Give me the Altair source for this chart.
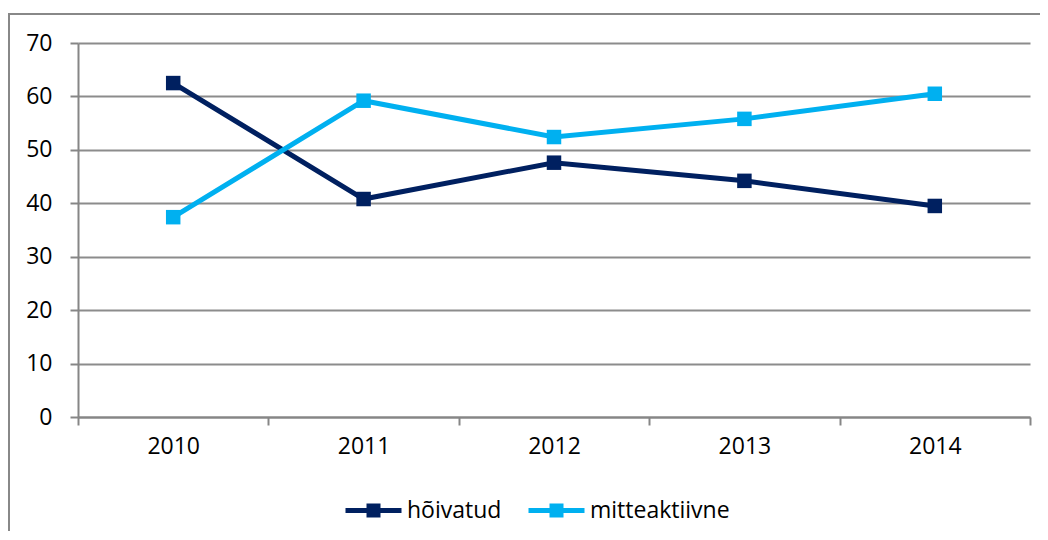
import altair as alt
import pandas as pd

years = ["2010", "2011", "2012", "2013", "2014"]
hoivatud = [62.5, 40.8, 47.6, 44.2, 39.5]
mitteaktiivne = [37.4, 59.2, 52.4, 55.8, 60.5]
series_names = ["hõivatud", "mitteaktiivne"]
series_colors = ["#002060", "#00B0F0"]
y_ticks = [0, 10, 20, 30, 40, 50, 60, 70]

rows = []
for y, a, b in zip(years, hoivatud, mitteaktiivne):
    rows.append({"aasta": y, "seeria": series_names[0], "v": a})
    rows.append({"aasta": y, "seeria": series_names[1], "v": b})
df = pd.DataFrame(rows)

FONT = "Open Sans"
FS = 23
W, H = 952, 374

x_enc = alt.X("aasta:N", title=None, sort=years,
              scale=alt.Scale(type="band", paddingInner=0, paddingOuter=0),
              axis=alt.Axis(labelAngle=0, tickBand="extent", grid=False,
                            domainColor="#868686", domainWidth=2,
                            tickColor="#868686", tickWidth=2, tickSize=8,
                            labelPadding=10, labelFontSize=FS, labelFont=FONT,
                            labelColor="#000000"))
y_enc = alt.Y("v:Q", title=None,
              scale=alt.Scale(domain=[0, 70], nice=False, zero=True),
              axis=alt.Axis(values=y_ticks, grid=True, gridColor="#8C8C8C", gridWidth=2,
                            domainColor="#868686", domainWidth=2,
                            tickColor="#868686", tickWidth=2, tickSize=8,
                            labelPadding=18, labelFontSize=FS, labelFont=FONT,
                            labelColor="#000000"))
color_scale = alt.Scale(domain=series_names, range=series_colors)

legend_path = "M-1,0H1M-0.25,-0.16H0.25M-0.25,0.16H0.25"

line = alt.Chart(df).mark_line(strokeWidth=5).encode(
    x=x_enc, y=y_enc,
    color=alt.Color("seeria:N", scale=color_scale, sort=series_names,
                    legend=alt.Legend(title=None, orient="none", direction="horizontal",
                                      legendX=265, legendY=437,
                                      symbolType=legend_path, symbolSize=3136,
                                      symbolStrokeWidth=5, labelFontSize=FS,
                                      labelFont=FONT, labelColor="#000000",
                                      labelOffset=3, columnPadding=16))
)
points = alt.Chart(df).mark_point(shape="square", filled=True, size=210, opacity=1).encode(
    x=x_enc, y=y_enc,
    color=alt.Color("seeria:N", scale=color_scale, sort=series_names, legend=None)
)

frame = alt.Chart(pd.DataFrame({"k": [0]})).mark_rect(
    fill=None, stroke="#888888", strokeWidth=2, clip=False
).encode(x=alt.value(-69), x2=alt.value(1000), y=alt.value(-29), y2=alt.value(520))

chart = alt.layer(frame, line, points).properties(
    width=W, height=H,
    autosize=alt.AutoSizeParams(type="none"),
    padding={"left": 70, "top": 35, "right": 10, "bottom": 114},
).configure_view(stroke=None)

chart.save("out.html", embed_options={"renderer": "svg", "actions": False})
